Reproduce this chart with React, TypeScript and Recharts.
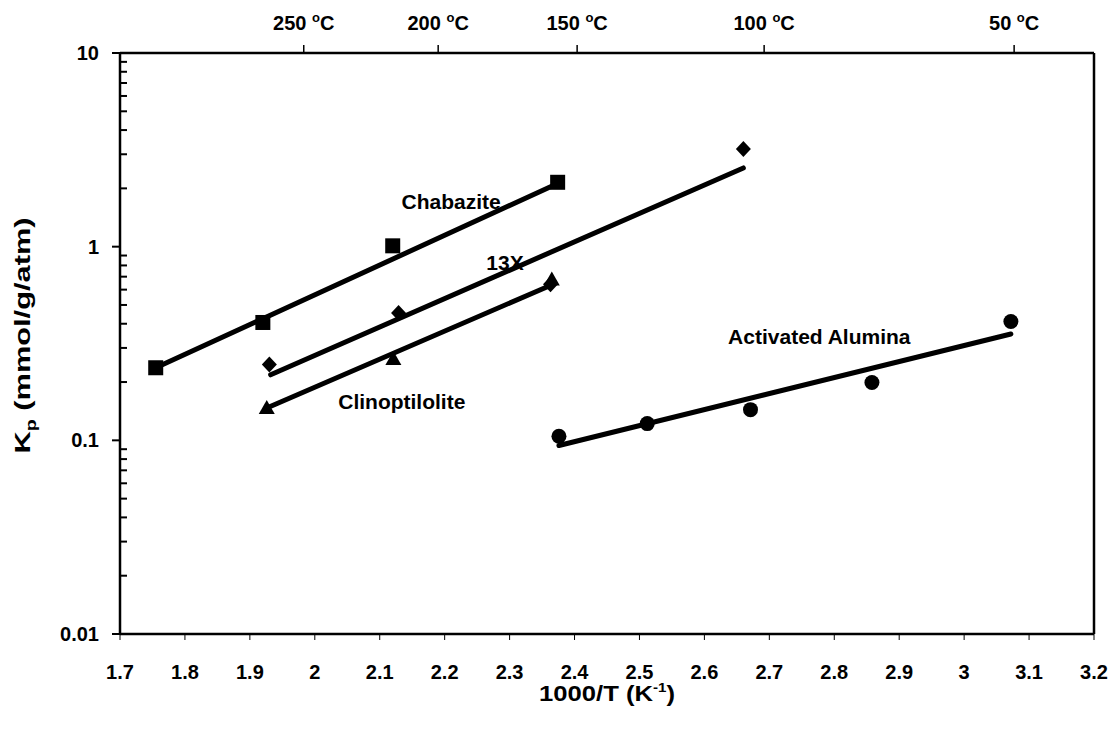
import { ComposedChart, ReferenceDot, Scatter, XAxis, YAxis } from "recharts";

const FONT = "'Liberation Sans', Arial, sans-serif";

// 1000/T axis (bottom) and Kp axis (log)
const xTicks = [1.7, 1.8, 1.9, 2, 2.1, 2.2, 2.3, 2.4, 2.5, 2.6, 2.7, 2.8, 2.9, 3, 3.1, 3.2];
const yTicks = [0.01, 0.1, 1, 10];
const yMinorTicks = [
	0.02, 0.03, 0.04, 0.05, 0.06, 0.07, 0.08, 0.09,
	0.2, 0.3, 0.4, 0.5, 0.6, 0.7, 0.8, 0.9,
	2, 3, 4, 5, 6, 7, 8, 9,
];

// temperature scale along the top, as placed in the original figure
const tempTicks = [1.983, 2.19, 2.404, 2.692, 3.077];
const tempLabels = ["250", "200", "150", "100", "50"];

// measured points
const chabX = [1.755, 1.92, 2.12, 2.374];
const chabY = [0.237, 0.406, 1.01, 2.15];
const x13X = [1.93, 2.129, 2.363, 2.66];
const x13Y = [0.246, 0.455, 0.64, 3.19];
const clinoX = [1.926, 2.121, 2.365];
const clinoY = [0.147, 0.263, 0.676];
const aluX = [2.376, 2.512, 2.671, 2.858, 3.072];
const aluY = [0.105, 0.122, 0.144, 0.199, 0.411];

// fitted lines (end points)
const chabFitX = [1.755, 2.374];
const chabFitY = [0.237, 2.12];
const x13FitX = [1.932, 2.66];
const x13FitY = [0.218, 2.55];
const clinoFitX = [1.926, 2.36];
const clinoFitY = [0.147, 0.625];
const aluFitX = [2.376, 3.072];
const aluFitY = [0.094, 0.354];

// series labels and where they sit
const seriesNames = ["Chabazite", "13X", "Clinoptilolite", "Activated Alumina"];
const nameX = [2.21, 2.293, 2.134, 2.777];
const nameY = [1.71, 0.824, 0.159, 0.344];

const zip = (xs: number[], ys: number[]) => xs.map((x, i) => ({ x, y: ys[i] }));

const Square = (p: any) => (
	<rect x={p.cx - 7.5} y={p.cy - 7.5} width={15} height={15} fill="#000" />
);
const Diamond = (p: any) => (
	<polygon
		points={`${p.cx},${p.cy - 8} ${p.cx + 7.5},${p.cy} ${p.cx},${p.cy + 8} ${p.cx - 7.5},${p.cy}`}
		fill="#000"
	/>
);
const Triangle = (p: any) => (
	<polygon
		points={`${p.cx},${p.cy - 8} ${p.cx + 8},${p.cy + 6} ${p.cx - 8},${p.cy + 6}`}
		fill="#000"
	/>
);
const Circle = (p: any) => <circle cx={p.cx} cy={p.cy} r={7.5} fill="#000" />;
const NoMark = () => <g />;

const BottomTick = (props: any) => (
	<text x={props.x} y={props.y} dy="0.71em" textAnchor="middle" fill="#000" fontSize={20} fontWeight="bold" fontFamily={FONT}>
		{props.payload.value}
	</text>
);

const LeftTick = (props: any) => (
	<text x={props.x} y={props.y} dy="0.355em" textAnchor="end" fill="#000" fontSize={20} fontWeight="bold" fontFamily={FONT}>
		{props.payload.value}
	</text>
);

const TempTick = (props: any) => {
	const { x, y, payload } = props;
	const i = tempTicks.indexOf(payload.value);
	return (
		<text x={x} y={y} textAnchor="middle" fill="#000" fontSize={20} fontWeight="bold" fontFamily={FONT}>
			<tspan>{tempLabels[i]} </tspan>
			<tspan dy={-8} fontSize={13}>o</tspan>
			<tspan dy={8}>C</tspan>
		</text>
	);
};

const XTitle = (props: any) => {
	const vb = props.viewBox || { x: 120, y: 634, width: 974 };
	return (
		<text
			x={vb.x + vb.width / 2}
			y={vb.y + 67}
			textAnchor="middle"
			fill="#000"
			fontSize={22}
			fontWeight="bold"
			fontFamily={FONT}
			textLength={136}
			lengthAdjust="spacingAndGlyphs"
		>
			<tspan>1000/T (K</tspan>
			<tspan dy={-9} fontSize={13}>-1</tspan>
			<tspan dy={9}>)</tspan>
		</text>
	);
};

const YTitle = (props: any) => {
	const vb = props.viewBox || { x: 0, y: 53, height: 581 };
	const cx = 30;
	const cy = vb.y + vb.height / 2 - 8;
	return (
		<text
			x={cx}
			y={cy}
			transform={`rotate(-90, ${cx}, ${cy})`}
			textAnchor="middle"
			fill="#000"
			fontSize={22}
			fontWeight="bold"
			fontFamily={FONT}
			textLength={236}
			lengthAdjust="spacingAndGlyphs"
		>
			<tspan>K</tspan>
			<tspan dy={6} fontSize={14}>p</tspan>
			<tspan dy={-6}> (mmol/g/atm)</tspan>
		</text>
	);
};

const axisLine = { stroke: "#000", strokeWidth: 2.5 };
const fitLine = { stroke: "#000", strokeWidth: 5, strokeLinecap: "round" as const };

export default function App() {
	return (
		<div style={{ position: "absolute", left: 0, top: 0, background: "#fff" }}>
			<ComposedChart width={1114} height={732} margin={{ top: 0, right: 0, bottom: 0, left: 0 }}>
				<XAxis
					dataKey="x"
					type="number"
					domain={[1.7, 3.2]}
					ticks={xTicks}
					interval={0}
					allowDataOverflow
					height={98}
					tickSize={6}
					tickMargin={25}
					axisLine={axisLine}
					tickLine={{ stroke: "#000", strokeWidth: 1 }}
					tick={<BottomTick />}
					label={{ content: XTitle }}
				/>
				<XAxis
					xAxisId="top"
					orientation="top"
					dataKey="x"
					type="number"
					domain={[1.7, 3.2]}
					ticks={tempTicks}
					interval={0}
					allowDataOverflow
					height={53}
					tickSize={8}
					tickMargin={15}
					axisLine={axisLine}
					tickLine={{ stroke: "#000", strokeWidth: 1.5 }}
					tick={<TempTick />}
				/>
				<YAxis
					dataKey="y"
					type="number"
					scale="log"
					domain={[0.01, 10]}
					ticks={yTicks}
					interval={0}
					allowDataOverflow
					width={120}
					tickSize={8}
					tickMargin={13}
					axisLine={axisLine}
					tickLine={{ stroke: "#000", strokeWidth: 2 }}
					tick={<LeftTick />}
					label={{ content: YTitle }}
				/>
				<YAxis
					yAxisId="minor"
					type="number"
					scale="log"
					domain={[0.01, 10]}
					ticks={yMinorTicks}
					interval={0}
					allowDataOverflow
					mirror
					tick={NoMark}
					tickSize={7}
					axisLine={false}
					tickLine={{ stroke: "#000", strokeWidth: 2 }}
				/>
				<YAxis
					yAxisId="right"
					orientation="right"
					type="number"
					domain={[0, 1]}
					width={20}
					tick={false}
					tickLine={false}
					axisLine={axisLine}
				/>

				<Scatter data={zip(chabFitX, chabFitY)} line={fitLine} shape={NoMark} isAnimationActive={false} />
				<Scatter data={zip(x13FitX, x13FitY)} line={fitLine} shape={NoMark} isAnimationActive={false} />
				<Scatter data={zip(clinoFitX, clinoFitY)} line={fitLine} shape={NoMark} isAnimationActive={false} />
				<Scatter data={zip(aluFitX, aluFitY)} line={fitLine} shape={NoMark} isAnimationActive={false} />

				<Scatter data={zip(chabX, chabY)} shape={Square} isAnimationActive={false} />
				<Scatter data={zip(x13X, x13Y)} shape={Diamond} isAnimationActive={false} />
				<Scatter data={zip(clinoX, clinoY)} shape={Triangle} isAnimationActive={false} />
				<Scatter data={zip(aluX, aluY)} shape={Circle} isAnimationActive={false} />

				{seriesNames.map((name, i) => (
					<ReferenceDot
						key={name}
						x={nameX[i]}
						y={nameY[i]}
						r={0}
						fill="none"
						stroke="none"
						ifOverflow="visible"
						label={{
							value: name,
							position: "center",
							fill: "#000",
							fontSize: 21,
							fontWeight: "bold",
							fontFamily: FONT,
						}}
					/>
				))}
			</ComposedChart>
		</div>
	);
}
